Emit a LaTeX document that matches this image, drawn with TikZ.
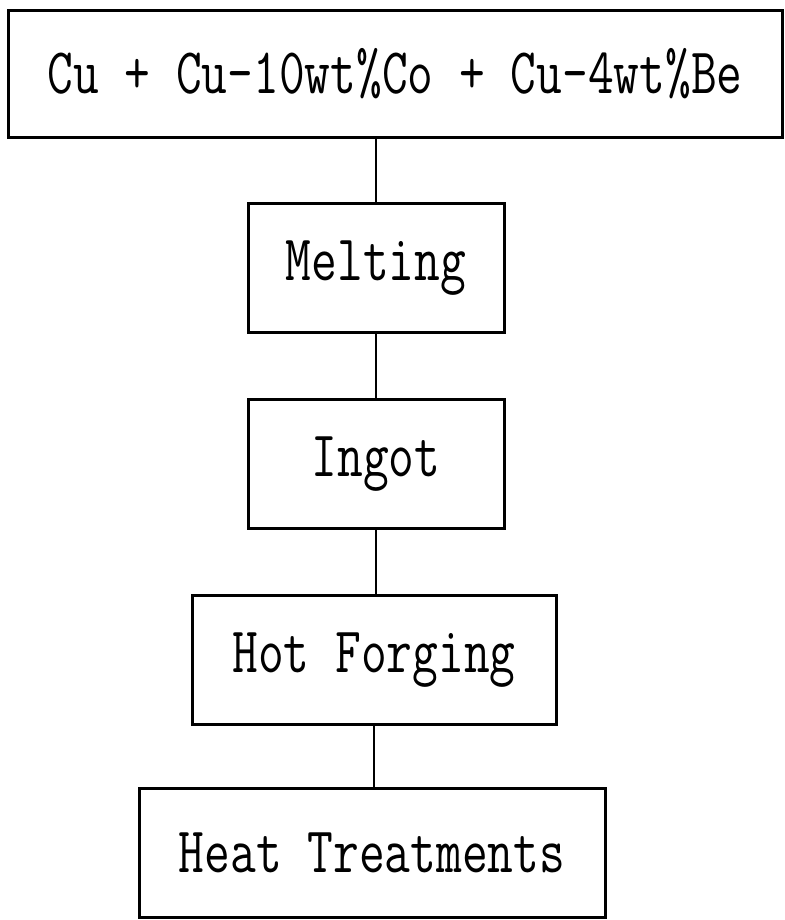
\documentclass[tikz,border=0pt]{standalone}
\usepackage{fontspec}
\usepackage{graphicx}
\usepackage{tikz}
\newcommand{\stretched}[1]{\scalebox{1}[1.3]{#1}}

\begin{document}
\begin{tikzpicture}[x=1pt,y=-1pt,line width=3pt,
  stage/.style={draw,minimum height=129pt,inner sep=0pt,font=\ttfamily\fontsize{50}{56}\selectfont}]
\useasboundingbox (0,0) rectangle (784,920);
\node[stage,minimum width=774pt,minimum height=127pt] (mix) at (395,74) {\stretched{Cu + Cu-10wt\%Co + Cu-4wt\%Be}};
\node[stage,minimum width=256pt] (melt) at (376,268) {\stretched{Melting}};
\node[stage,minimum width=256pt] (ingot) at (376,464) {\stretched{Ingot}};
\node[stage,minimum width=364pt] (forge) at (374,660) {\stretched{Hot Forging}};
\node[stage,minimum width=466pt] (heat) at (372,853) {\stretched{Heat Treatments}};
\draw[line width=2.5pt] (melt.north) -- (melt.north |- mix.south);
\draw[line width=2.5pt] (melt) -- (ingot);
\draw[line width=2.5pt] (ingot.south) -- (ingot.south |- forge.north);
\draw[line width=2.5pt] (forge.south) -- (forge.south |- heat.north);
\end{tikzpicture}
\end{document}
